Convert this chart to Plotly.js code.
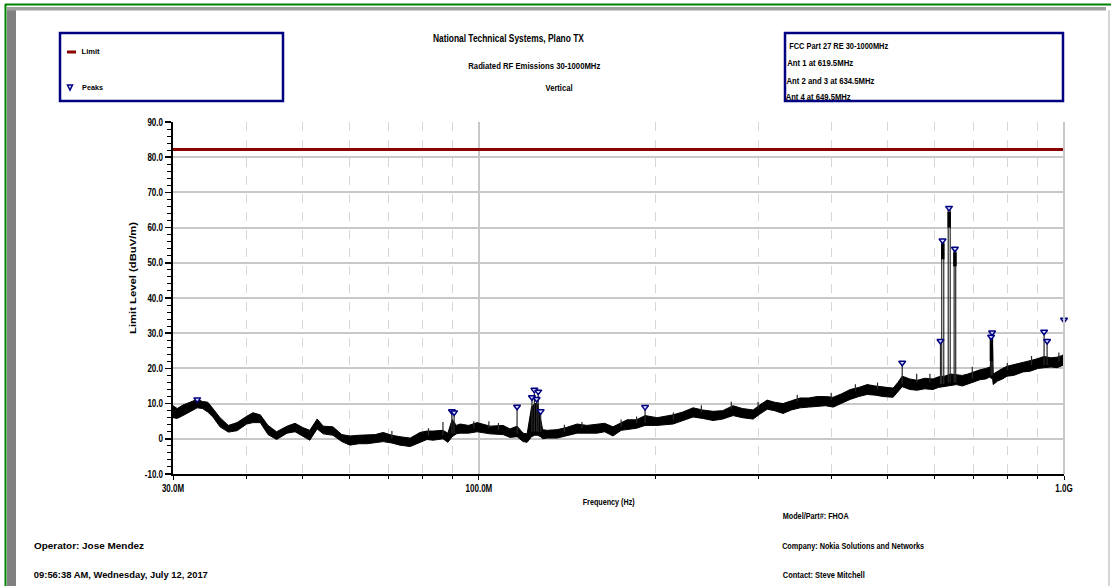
<!DOCTYPE html>
<html>
<head>
<meta charset="utf-8">
<script src="https://cdn.plot.ly/plotly-3.0.1.min.js"></script>
<style>html,body{margin:0;padding:0;background:#fff;}#chart{width:1111px;height:586px;}</style>
</head>
<body>
<div id="chart"></div>
<script>
// ---------- data ----------
// Noise-floor envelope of the measured trace: frequency (MHz), lower and upper edge (dBuV/m)
const bandFreq = [30.0,30.5,31.2,32.1,33.0,33.7,34.4,35.1,36.1,37.3,38.6,40.1,41.1,42.3,43.6,45.1,47.0,48.5,50.0,51.4,52.9,54.2,56.3,58.3,60.2,62.3,64.4,66.5,68.6,71.0,73.3,76.3,79.3,81.5,83.5,86.8,88.5,90.0,91.5,92.9,96.0,99.3,104.5,110.0,113.0,116.2,119.0,120.9,123.0,124.5,126.0,127.5,128.5,130.8,136.0,141.0,147.2,153.0,159.2,164.0,169.5,175.0,179.2,186.0,192.3,201.6,214.7,223.0,232.3,241.0,251.3,261.0,271.9,282.0,294.2,302.0,310.9,320.0,330.9,342.0,354.0,366.0,378.6,391.0,403.2,417.0,431.1,446.0,460.9,476.0,490.9,510.5,520.0,529.0,545.0,561.0,578.0,597.3,610.0,625.0,640.0,655.0,670.0,685.0,700.0,718.8,735.0,748.0,751.0,755.0,757.0,770.0,785.0,799.2,820.0,851.4,875.0,903.0,924.0,950.0,973.0,990.0,1000.0];
const bandLo   = [6.0,5.8,6.6,7.6,8.8,8.6,7.6,6.2,3.4,1.9,2.3,4.2,4.6,4.6,1.2,-0.2,1.6,2.0,0.8,-0.4,2.8,1.4,1.0,-0.8,-1.8,-1.4,-1.4,-1.2,-0.8,-1.2,-1.8,-2.2,-1.0,-0.2,-0.4,0.0,-1.0,0.6,1.4,1.6,1.6,2.0,1.4,1.2,0.4,0.6,-0.8,-1.0,0.6,1.0,1.0,0.6,0.0,0.2,0.2,0.8,1.6,1.6,1.6,2.0,0.8,2.4,2.6,3.0,3.8,3.8,4.2,5.2,6.2,5.8,5.2,5.6,6.6,6.0,5.6,7.0,8.4,8.0,7.2,8.2,8.8,9.0,9.2,9.4,9.0,10.2,11.2,12.0,12.6,12.4,12.0,11.8,13.2,14.8,14.0,13.8,14.2,14.0,14.6,14.8,15.2,15.4,15.0,15.6,16.0,16.8,17.0,17.6,17.1,17.1,15.4,16.4,17.0,17.8,18.0,19.0,19.2,20.0,20.2,20.4,20.2,20.8,21.0];
const bandHi   = [9.4,8.6,9.6,10.4,11.2,10.6,10.4,8.6,6.0,3.8,4.6,6.4,7.4,6.8,3.8,2.0,3.6,4.4,3.2,2.4,5.6,3.6,3.4,1.2,0.8,1.0,1.2,1.2,1.8,1.0,0.6,0.2,1.8,2.2,2.2,2.4,1.6,5.5,3.8,4.2,3.8,4.6,3.6,3.8,2.8,3.6,1.6,1.4,9.0,10.0,10.0,6.0,2.6,2.4,2.6,3.2,4.2,3.8,4.2,4.4,3.4,4.6,5.4,5.4,6.6,6.0,6.8,7.6,8.8,8.2,7.8,8.0,9.4,8.6,8.2,9.6,11.0,10.4,10.0,10.8,11.6,11.6,12.0,12.0,11.8,12.8,14.0,14.6,15.4,15.0,14.8,14.4,16.0,17.8,17.0,16.6,17.2,17.0,17.6,17.8,18.4,18.2,18.0,18.4,19.0,19.6,20.0,20.4,26.0,26.0,18.4,19.2,20.0,20.6,21.0,21.8,22.2,22.8,23.4,23.0,23.2,23.6,24.0];

// Narrow-band emissions and noise whiskers: rise frequency, fall frequency, top and base level
const spikeF1   = [86.8,89.9,90.7,116.2,123.2,124.4,125.5,126.3,127.5,192.3,529,615,618,634,649,697,750.6,753.6,924.6,935.7,1000,71,82,98,104,108,140,150,175,186,215,240,270,300,350,400,440,480,560,590,800,880,980];
const spikeF2   = [86.8,89.9,90.7,116.2,123.2,124.4,125.5,126.3,127.5,192.3,529,615,623,639,653,697,750.6,753.6,924.6,935.7,1000,71,82,98,104,108,140,150,175,186,215,240,270,300,350,400,440,480,560,590,800,880,980];
const spikeTop  = [4.8,7.8,7.5,9.1,11.8,13.9,11.3,13.4,7.8,9.0,21.6,27.8,56.3,65.6,54.0,20.5,29.0,30.2,30.4,27.8,33.8,2.2,3.0,5.0,5.0,4.5,4.0,4.8,5.5,6.3,7.5,9.5,10.5,10.5,12.5,13.0,15.5,16.0,18.5,18.5,21.5,23.5,24.5];
const spikeBase = [1.0,1.5,1.5,1.5,2.0,2.0,2.0,2.0,2.0,4.5,15.5,15.5,15.5,16.0,16.0,17.0,18.0,18.0,21.0,21.0,22.0,0.0,1.0,3.0,3.0,2.5,2.0,3.0,3.5,4.5,5.5,7.5,8.5,8.5,10.5,11.0,13.5,14.0,16.0,16.0,19.5,21.0,22.0];

// Dense (modulated) tops of the carrier emissions
const headFreq = [620.5,636.5,651.0,751.5];
const headHi   = [55.5,64.5,53.0,28.5];
const headLo   = [51.0,60.0,49.0,22.0];

// Peak markers
const peakFreq  = [33.0,89.9,90.7,116.2,123.2,124.4,125.5,126.3,127.5,192.3,529,615,620,636,651,750.6,753.6,924.6,935.7,1000];
const peakLevel = [11.2,7.8,7.5,9.1,11.8,13.9,11.3,13.4,7.8,9.0,21.6,27.8,56.3,65.6,54.0,29.0,30.2,30.4,27.8,33.8];

// Limit line
const limitFreq  = [30, 1000];
const limitLevel = [82.2, 82.2];

// Axis ticks
const yTickVals = [-10,0,10,20,30,40,50,60,70,80,90];
const yTickText = ['-10.0','0','10.0','20.0','30.0','40.0','50.0','60.0','70.0','80.0','90.0'];
const xTickVals = [30,100,1000];
const xTickText = ['30.0M','100.0M','1.0G'];
const xMinorVals = [40,50,60,70,80,90,200,300,400,500,600,700,800,900];

// ---------- build ----------
const spikeX = [], spikeY = [];
for (let i = 0; i < spikeF1.length; i++) {
  spikeX.push(spikeF1[i], spikeF1[i], spikeF2[i], spikeF2[i], null);
  spikeY.push(spikeBase[i], spikeTop[i], spikeTop[i], spikeBase[i], null);
}
const headX = [], headY = [];
for (let i = 0; i < headFreq.length; i++) {
  headX.push(headFreq[i], headFreq[i], null);
  headY.push(headLo[i], headHi[i], null);
}

const traces = [
  {x: bandFreq, y: bandLo, mode: 'lines', line: {color: '#000', width: 1}, hoverinfo: 'skip'},
  {x: bandFreq, y: bandHi, mode: 'lines', fill: 'tonexty', fillcolor: '#000', line: {color: '#000', width: 1}, hoverinfo: 'skip'},
  {x: spikeX, y: spikeY, mode: 'lines', line: {color: '#2a2a2a', width: 1.2}, connectgaps: false, hoverinfo: 'skip'},
  {x: headX, y: headY, mode: 'lines', line: {color: '#000', width: 3.5}, connectgaps: false, hoverinfo: 'skip'},
  {x: limitFreq, y: limitLevel, mode: 'lines', line: {color: '#8b0000', width: 3}, name: 'Limit'},
  {x: peakFreq, y: peakLevel, mode: 'markers', cliponaxis: false, name: 'Peaks',
   marker: {symbol: 'triangle-down', size: 6, color: '#dde0ff', line: {color: '#000080', width: 1.5}}}
];

// pixel -> paper helpers (plot area: x 173..1064, y 122..474)
const P = px => (px - 173) / 891;
const Q = py => (474 - py) / 352;

const FA = "'Liberation Sans',Arial,sans-serif";

// text, centre x, centre y, font size, target width in px
const texts = [
  ['National Technical Systems, Plano TX', 508.7, 38, 11.5, 151],
  ['Radiated RF Emissions 30-1000MHz', 534, 65.5, 9.5, 132],
  ['Vertical', 559, 88, 9, 27],
  ['Limit', 90.7, 52, 8, 18],
  ['Peaks', 92.5, 87, 8, 21],
  ['FCC Part 27 RE 30-1000MHz', 838, 46, 8.5, 99],
  ['Ant 1 at 619.5MHz', 819.7, 63, 8.5, 66],
  ['Ant 2 and 3 at 634.5MHz', 830, 81, 8.5, 88],
  ['Ant 4 at 649.5MHz', 818.3, 97, 8.5, 65],
  ['Frequency (Hz)', 608.5, 502, 8.5, 52],
  ['Model/Part#: FHOA', 815.5, 516, 8.5, 66],
  ['Operator: Jose Mendez', 89, 546, 8.5, 110],
  ['Company: Nokia Solutions and Networks', 853.8, 546, 8.5, 142],
  ['09:56:38 AM, Wednesday, July 12, 2017', 121, 575, 8.5, 174],
  ['Contact: Steve Mitchell', 824, 575, 8.5, 82]
];
const annotations = texts.map(t => ({
  text: t[0], xref: 'paper', yref: 'paper', x: P(t[1]), y: Q(t[2]),
  xanchor: 'center', yanchor: 'middle', showarrow: false,
  font: {family: FA, size: t[3], color: '#000', weight: 700}
}));
annotations.push({
  text: 'Limit Level (dBuV/m)', xref: 'paper', yref: 'paper', x: P(132.7), y: Q(277.5),
  xanchor: 'center', yanchor: 'middle', showarrow: false, textangle: -90,
  font: {family: FA, size: 8.5, color: '#000', weight: 700}
});
const textWidths = texts.map(t => t[4]).concat([112]);

const shapes = [
  // page frame
  {type: 'rect', xref: 'paper', yref: 'paper', x0: P(7), x1: P(16), y0: Q(586), y1: Q(8), fillcolor: '#808080', line: {width: 0}},
  {type: 'rect', xref: 'paper', yref: 'paper', x0: P(7), x1: P(1106), y0: Q(10.5), y1: Q(7), fillcolor: '#a0a0a0', line: {width: 0}},
  {type: 'line', xref: 'paper', yref: 'paper', x0: P(5), x1: P(1111), y0: Q(4.5), y1: Q(4.5), line: {color: '#008000', width: 2}},
  {type: 'line', xref: 'paper', yref: 'paper', x0: P(5.5), x1: P(5.5), y0: Q(4), y1: Q(586), line: {color: '#008000', width: 2}},
  {type: 'line', xref: 'paper', yref: 'paper', x0: P(1109), x1: P(1109), y0: Q(10), y1: Q(586), line: {color: '#c8c8c8', width: 1.5}},
  // plot border (right)
  {type: 'line', xref: 'paper', yref: 'paper', x0: 1, x1: 1, y0: 0, y1: 1, line: {color: '#c8c8c8', width: 2}},
  // legend box
  {type: 'rect', xref: 'paper', yref: 'paper', x0: P(60), x1: P(283), y0: Q(101), y1: Q(33), line: {color: '#000080', width: 2.5}},
  {type: 'line', xref: 'paper', yref: 'paper', x0: P(67), x1: P(76), y0: Q(52), y1: Q(52), line: {color: '#8b0000', width: 3}},
  {type: 'path', xref: 'paper', yref: 'paper',
   path: 'M ' + P(67.5) + ',' + Q(85) + ' L ' + P(72.5) + ',' + Q(85) + ' L ' + P(70) + ',' + Q(90) + ' Z',
   fillcolor: '#dde0ff', line: {color: '#000080', width: 1.5}},
  // info box
  {type: 'rect', xref: 'paper', yref: 'paper', x0: P(785), x1: P(1063), y0: Q(101), y1: Q(33), line: {color: '#000080', width: 2.5}, layer: 'above'}
];

const layout = {
  width: 1111, height: 586,
  margin: {l: 173, r: 47, t: 122, b: 112, pad: 0},
  paper_bgcolor: '#fff', plot_bgcolor: '#fff',
  showlegend: false,
  xaxis: {
    type: 'log', range: [Math.log10(30), Math.log10(1000)],
    tickmode: 'array', tickvals: xTickVals, ticktext: xTickText,
    ticks: 'outside', ticklen: 4, tickwidth: 1, tickcolor: '#000',
    showline: true, linecolor: '#000', linewidth: 2,
    showgrid: true, gridcolor: '#c8c8c8', gridwidth: 2,
    zeroline: false,
    tickfont: {family: FA, size: 10, color: '#000', weight: 700},
    minor: {tickmode: 'array', tickvals: xMinorVals, ticks: 'outside', ticklen: 3, tickcolor: '#000', tickwidth: 1,
            showgrid: true, gridcolor: '#d6d6d6', gridwidth: 1, griddash: 'dash'}
  },
  yaxis: {
    range: [-10, 90],
    tickmode: 'array', tickvals: yTickVals, ticktext: yTickText,
    ticks: 'outside', ticklen: 6, tickwidth: 1.5, tickcolor: '#000',
    showline: true, linecolor: '#000', linewidth: 2,
    showgrid: true, gridcolor: '#c8c8c8', gridwidth: 2,
    zeroline: false,
    tickfont: {family: FA, size: 10, color: '#000', weight: 700},
    minor: {dtick: 2, ticks: 'outside', ticklen: 4, tickcolor: '#000', tickwidth: 1, showgrid: false}
  },
  annotations: annotations,
  shapes: shapes
};

Plotly.newPlot('chart', traces, layout, {displayModeBar: false, staticPlot: true}).then(gd => {
  // condense text horizontally like the narrow font of the original
  gd.querySelectorAll('.annotation').forEach(g => {
    const i = +g.getAttribute('data-index');
    const t = g.querySelector('text');
    if (t && textWidths[i]) {
      t.setAttribute('textLength', textWidths[i]);
      t.setAttribute('lengthAdjust', 'spacingAndGlyphs');
    }
  });
  gd.querySelectorAll('.xtick text, .ytick text').forEach(t => {
    const w = t.getComputedTextLength();
    t.setAttribute('textLength', (w * 0.8).toFixed(1));
    t.setAttribute('lengthAdjust', 'spacingAndGlyphs');
  });
});
</script>
</body>
</html>
